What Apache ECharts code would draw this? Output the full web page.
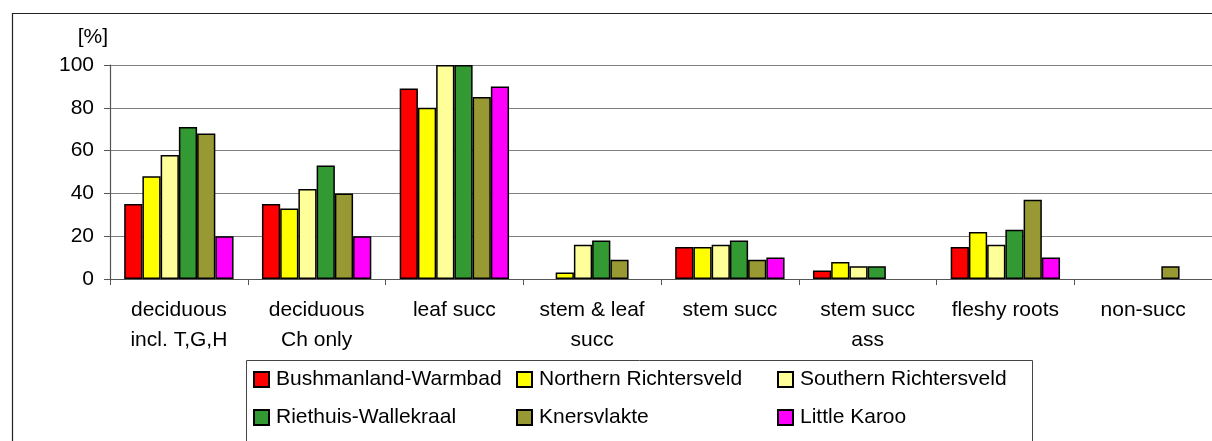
<!DOCTYPE html>
<html>
<head>
<meta charset="utf-8">
<script src="https://cdn.jsdelivr.net/npm/echarts@6/dist/echarts.min.js"></script>
<style>
html,body{margin:0;padding:0;background:#fff;}
#chart{width:1212px;height:441px;}
</style>
</head>
<body>
<div id="chart"></div>
<script>
const categories = ['deciduous\nincl. T,G,H', 'deciduous\nCh only', 'leaf succ', 'stem & leaf\nsucc', 'stem succ', 'stem succ\nass', 'fleshy roots', 'non-succ'];
const seriesNames = ['Bushmanland-Warmbad', 'Northern Richtersveld', 'Southern Richtersveld', 'Riethuis-Wallekraal', 'Knersvlakte', 'Little Karoo'];
const bushmanland = [35, 35, 89, null, 15, 4, 15, null];
const northernRichtersveld = [48, 33, 80, 3, 15, 8, 22, null];
const southernRichtersveld = [58, 42, 100, 16, 16, 6, 16, null];
const riethuis = [71, 53, 100, 18, 18, 6, 23, null];
const knersvlakte = [68, 40, 85, 9, 9, null, 37, 6];
const littleKaroo = [20, 20, 90, null, 10, null, 10, null];
const yTicks = [0, 20, 40, 60, 80, 100];
const colors = ['#FF0000', '#FFFF00', '#FFFF99', '#339933', '#999933', '#FF00FF'];

const allData = [bushmanland, northernRichtersveld, southernRichtersveld, riethuis, knersvlakte, littleKaroo];
const FONT = 'Liberation Sans, Arial, sans-serif';
const legendCols = [253, 516, 777];
const legendRows = [369, 407];

const legends = seriesNames.map(function (name, i) {
  return {
    data: [name],
    left: legendCols[i % 3], top: legendRows[Math.floor(i / 3)],
    orient: 'horizontal',
    padding: 0,
    itemWidth: 15, itemHeight: 15,
    icon: 'rect',
    textStyle: {fontFamily: FONT, fontSize: 21, color: '#000', padding: [0, 0, 0, 2]}
  };
});

const chart = echarts.init(document.getElementById('chart'), null, {renderer: 'canvas'});
chart.setOption({
  animation: false,
  backgroundColor: '#ffffff',
  textStyle: {fontFamily: FONT},
  graphic: [
    {type: 'rect', shape: {x: 12.5, y: 13.5, width: 1300, height: 500}, style: {fill: 'none', stroke: '#222', lineWidth: 1.2}, z: -1},
    {type: 'rect', shape: {x: 246.5, y: 360.5, width: 786, height: 200}, style: {fill: 'none', stroke: '#444', lineWidth: 1}, z: -1}
  ],
  grid: {left: 110, top: 65, width: 1108.6, height: 214},
  legend: legends,
  xAxis: {
    type: 'category',
    data: categories,
    axisLine: {lineStyle: {color: '#555', width: 1.2}},
    axisTick: {show: true, length: 6, alignWithLabel: false, lineStyle: {color: '#555'}},
    axisLabel: {interval: 0, margin: 16, fontSize: 21, lineHeight: 30, color: '#000', fontFamily: FONT}
  },
  yAxis: {
    type: 'value',
    min: 0, max: 100, interval: 20,
    name: '[%]',
    nameLocation: 'end',
    nameGap: 28,
    nameTextStyle: {align: 'right', verticalAlign: 'middle', fontSize: 21, color: '#000', fontFamily: FONT, padding: [0, 2, 0, 0]},
    axisLine: {show: true, lineStyle: {color: '#555', width: 1.2}},
    axisTick: {show: true, length: 6, lineStyle: {color: '#555'}},
    axisLabel: {margin: 16, fontSize: 21, color: '#000', fontFamily: FONT,
      formatter: function (v) { return yTicks.indexOf(v) >= 0 ? String(v) : ''; }},
    splitLine: {show: true, lineStyle: {color: '#808080', width: 1.2}}
  },
  series: seriesNames.map(function (name, i) {
    return {
      name: name,
      type: 'bar',
      data: allData[i],
      barGap: '0%',
      barCategoryGap: '20.6%',
      itemStyle: {color: colors[i], borderColor: '#000', borderWidth: 1.5}
    };
  })
});
</script>
</body>
</html>
